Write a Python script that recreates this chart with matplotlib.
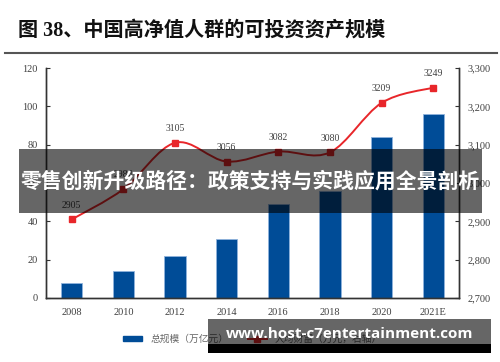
import numpy as np
import matplotlib.pyplot as plt
from matplotlib.path import Path
from matplotlib.patches import PathPatch, Rectangle
from matplotlib.lines import Line2D
from matplotlib.patches import Patch

# Datos
years = ["2008", "2010", "2012", "2014", "2016", "2018", "2020", "2021E"]
total_scale = [8, 14, 22, 31, 49, 56, 84, 96]            # 总规模（万亿元）
wealth_pc = [2905, 2984, 3105, 3056, 3082, 3080, 3209, 3249]  # 人均财富（万元）

serif = ["Liberation Serif", "Noto Sans CJK SC"]
cjk = ["Noto Sans CJK SC", "DejaVu Sans"]
blue = "#004c97"
red = "#e8262a"
grey = "#404040"

fig = plt.figure(figsize=(5, 3.62), dpi=100)
ax = fig.add_axes([0.092, 0.177, 0.826, 0.635])
ax2 = ax.twinx()

x = np.arange(len(years))
ax.bar(x, total_scale, width=0.41, color=blue, edgecolor="#8fb3dc", linewidth=0.6, zorder=2)
ax.set_xlim(-0.5, len(years) - 0.5)
ax.set_ylim(0, 120)
ax.set_yticks(range(0, 121, 20))
ax.set_xticks(x)
ax.set_xticklabels(years)

# linea suavizada (Bezier, estilo Excel)
pts = np.column_stack([x, wealth_pc]).astype(float)
verts = [pts[0]]
codes = [Path.MOVETO]
for i in range(len(pts) - 1):
    p0 = pts[max(i - 1, 0)]
    p1 = pts[i]
    p2 = pts[i + 1]
    p3 = pts[min(i + 2, len(pts) - 1)]
    c1 = p1 + (p2 - p0) / 6
    c2 = p2 - (p3 - p1) / 6
    verts += [c1, c2, p2]
    codes += [Path.CURVE4] * 3
ax2.add_patch(PathPatch(Path(verts, codes), fill=False, edgecolor=red, lw=1.4, zorder=3))
ax2.plot(x, wealth_pc, ls="none", marker="s", ms=4, color=red, zorder=4)
for xi, v in zip(x, wealth_pc):
    ax2.annotate(str(v), (xi, v), xytext=(0, 7), textcoords="offset points",
                 ha="center", va="bottom", fontsize=7, color=grey, family=serif)
ax2.set_ylim(2700, 3300)
ax2.set_yticks(range(2700, 3301, 100))
ax2.set_yticklabels([f"{v:,}" for v in range(2700, 3301, 100)])

for a in (ax, ax2):
    a.spines["top"].set_visible(False)
    for s in ("left", "right", "bottom"):
        a.spines[s].set_color("#333333")
        a.spines[s].set_linewidth(1.0)
    a.tick_params(direction="in", length=3, width=0.8, colors="#333333",
                  labelcolor=grey, labelsize=7.5)
    for lab in a.get_xticklabels() + a.get_yticklabels():
        lab.set_family(serif)
ax.tick_params(axis="x", length=0, pad=7)
ax.tick_params(axis="y", pad=6)
ax2.tick_params(axis="y", pad=6)

handles = [Patch(facecolor=blue, edgecolor=blue),
           Line2D([], [], color=red, lw=1.4, marker="s", ms=4)]
ax.legend(handles, ["总规模（万亿元）", "人均财富（万元，右轴）"], loc="upper center",
          bbox_to_anchor=(0.5, -0.12), ncol=2, frameon=False, handlelength=2.0,
          handleheight=0.4, columnspacing=2.0, prop={"family": cjk, "size": 7},
          labelcolor="#666666")

# titulo
fig.text(0.036, 0.915, "图 38、中国高净值人群的可投资资产规模", family=serif,
         fontsize=14.5, fontweight="bold", va="center", ha="left", color="#111111")
fig.add_artist(Line2D([0.01, 0.994], [0.854, 0.854], color="#555555", lw=1.5))

# franjas superpuestas
fig.add_artist(Rectangle((0.038, 0.4116), 0.926, 0.1768, transform=fig.transFigure,
                         facecolor="black", alpha=0.6, edgecolor="none", zorder=10))
fig.text(0.5, 0.50, "零售创新升级路径：政策支持与实践应用全景剖析", family=cjk,
         fontsize=15, fontweight="bold", color="white", ha="center", va="center", zorder=11)
fig.add_artist(Rectangle((0.416, 0.0497), 0.566, 0.069, transform=fig.transFigure,
                         facecolor="black", alpha=0.6, edgecolor="none", zorder=10))
fig.add_artist(Rectangle((0.416, 0.0249), 0.566, 0.0249, transform=fig.transFigure,
                         facecolor="black", edgecolor="none", zorder=10))
fig.text(0.699, 0.078, "www.host-c7entertainment.com", family=["Open Sans", "DejaVu Sans"],
         fontsize=11, fontweight="bold", color="white", ha="center", va="center", zorder=11)

fig.savefig("out.png", dpi=100)
